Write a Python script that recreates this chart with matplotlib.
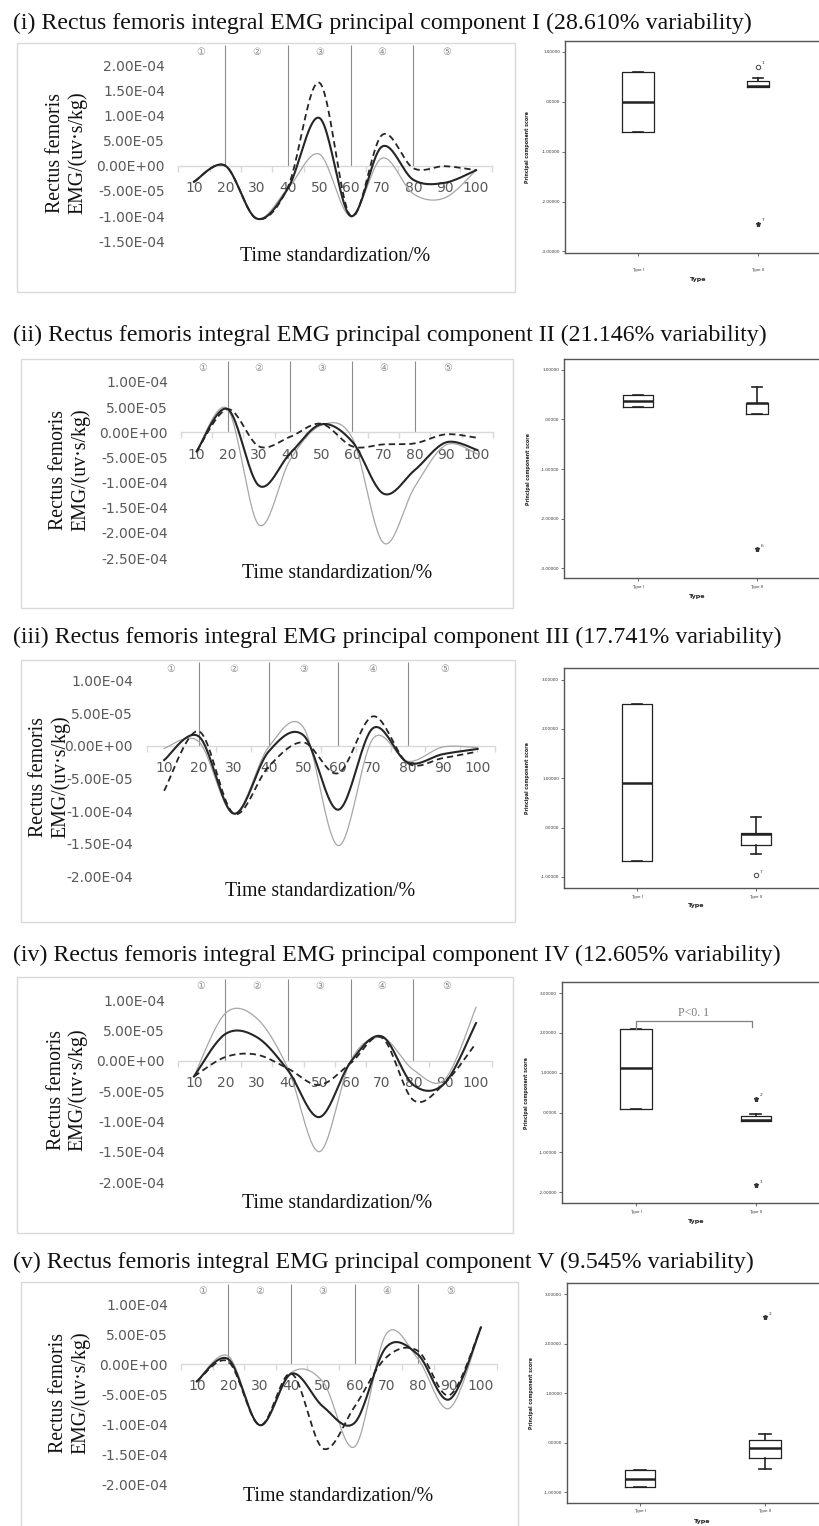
import numpy as np
import matplotlib
matplotlib.use("Agg")
import matplotlib.pyplot as plt
from matplotlib.patches import Rectangle

W, H, DPI = 820, 1526, 100

# ---------------- data ----------------
x_pct = [10, 20, 30, 40, 50, 60, 70, 80, 90, 100]
x_labels = ["10", "20", "30", "40", "50", "60", "70", "80", "90", "100"]
phase_bounds = [20, 40, 60, 80]
phase_labels = ["①", "②", "③", "④", "⑤"]
phase_pos = [12, 30, 50, 70, 90.5]

titles = [
    "(i) Rectus femoris integral EMG principal component I (28.610% variability)",
    "(ii) Rectus femoris integral EMG principal component II (21.146% variability)",
    "(iii) Rectus femoris integral EMG principal component III (17.741% variability)",
    "(iv) Rectus femoris integral EMG principal component IV (12.605% variability)",
    "(v) Rectus femoris integral EMG principal component V (9.545% variability)",
]
y_label = "Rectus femoris\nEMG/(uv·s/kg)"
x_label = "Time standardization/%"

# line series: solid (dark), dashed (dark), thin grey
pc1_solid = [-3.2e-5, 0.0, -1.05e-4, -4.5e-5, 9.5e-5, -1.0e-4, 3.8e-5, -2.8e-5, -3.4e-5, -0.9e-5]
pc1_dashed = [-3.2e-5, 0.0, -1.05e-4, -4.2e-5, 1.65e-4, -1.0e-4, 6.1e-5, -0.5e-5, -0.1e-5, -0.9e-5]
pc1_grey = [-3.2e-5, 0.0, -1.05e-4, -4.5e-5, 2.3e-5, -1.0e-4, 1.5e-5, -5.6e-5, -6.4e-5, -0.9e-5]
pc1_yticks = [2.0e-4, 1.5e-4, 1.0e-4, 5.0e-5, 0.0, -5.0e-5, -1.0e-4, -1.5e-4]

pc2_solid = [-3.8e-5, 4.6e-5, -1.06e-4, -4.2e-5, 1.6e-5, -1.9e-5, -1.22e-4, -7.5e-5, -2.0e-5, -3.5e-5]
pc2_dashed = [-3.8e-5, 4.6e-5, -2.8e-5, -0.9e-5, 1.7e-5, -2.8e-5, -2.4e-5, -2.2e-5, -0.4e-5, -1.1e-5]
pc2_grey = [-3.8e-5, 4.6e-5, -1.84e-4, -5.5e-5, 1.4e-5, -1.2e-5, -2.2e-4, -1.08e-4, -2.5e-5, -4.3e-5]
pc2_yticks = [1.0e-4, 5.0e-5, 0.0, -5.0e-5, -1.0e-4, -1.5e-4, -2.0e-4, -2.5e-4]

pc3_solid = [-2.2e-5, 1.4e-5, -1.04e-4, -0.9e-5, 1.6e-5, -9.8e-5, 2.7e-5, -2.6e-5, -1.3e-5, -0.5e-5]
pc3_dashed = [-6.9e-5, 2.2e-5, -1.04e-4, -3.2e-5, 0.5e-5, -4.2e-5, 4.5e-5, -2.7e-5, -1.9e-5, -0.9e-5]
pc3_grey = [-0.4e-5, 0.6e-5, -1.04e-4, -0.2e-5, 2.8e-5, -1.53e-4, 1.1e-5, -2.4e-5, -0.2e-5, -0.3e-5]
pc3_yticks = [1.0e-4, 5.0e-5, 0.0, -5.0e-5, -1.0e-4, -1.5e-4, -2.0e-4]

pc4_solid = [-2.6e-5, 4.4e-5, 3.9e-5, -1.6e-5, -9.3e-5, -0.2e-5, 4.0e-5, -4.0e-5, -3.7e-5, 6.2e-5]
pc4_dashed = [-2.6e-5, 0.6e-5, 1.0e-5, -1.3e-5, -4.0e-5, -0.4e-5, 3.8e-5, -6.5e-5, -3.7e-5, 2.9e-5]
pc4_grey = [-2.6e-5, 7.8e-5, 7.0e-5, -1.3e-5, -1.5e-4, 0.0, 3.8e-5, -1.5e-5, -3.1e-5, 8.8e-5]
pc4_yticks = [1.0e-4, 5.0e-5, 0.0, -5.0e-5, -1.0e-4, -1.5e-4, -2.0e-4]

pc5_solid = [-2.9e-5, 0.8e-5, -1.02e-4, -1.6e-5, -7.1e-5, -9.8e-5, 2.8e-5, 1.6e-5, -5.9e-5, 6.1e-5]
pc5_dashed = [-2.9e-5, 0.4e-5, -1.02e-4, -1.6e-5, -1.41e-4, -7.1e-5, 1.1e-5, 2.2e-5, -5.2e-5, 6.1e-5]
pc5_grey = [-2.9e-5, 1.3e-5, -1.02e-4, -1.4e-5, -3.0e-5, -1.38e-4, 5.0e-5, 0.9e-5, -7.4e-5, 6.1e-5]
pc5_yticks = [1.0e-4, 5.0e-5, 0.0, -5.0e-5, -1.0e-4, -1.5e-4, -2.0e-4]

# boxplot statistics (Type I, Type II)
box_types = ["Type I", "Type II"]
pc1_med, pc1_q1, pc1_q3 = [0.00, 0.32], [-0.61, 0.30], [0.60, 0.42]
pc1_wlo, pc1_whi = [-0.61, 0.29], [0.60, 0.48]
pc1_out = [(2, 0.69, "o", "1"), (2, -2.45, "*", "7")]
pc1_bticks = [1, 0, -1, -2, -3]

pc2_med, pc2_q1, pc2_q3 = [0.375, 0.335], [0.255, 0.10], [0.49, 0.335]
pc2_wlo, pc2_whi = [0.255, 0.10], [0.49, 0.66]
pc2_out = [(2, -2.62, "*", "6")]
pc2_bticks = [1, 0, -1, -2, -3]

pc3_med, pc3_q1, pc3_q3 = [0.91, -0.13], [-0.675, -0.35], [2.50, -0.10]
pc3_wlo, pc3_whi = [-0.675, -0.53], [2.50, 0.22]
pc3_out = [(2, -0.97, "o", "7")]
pc3_bticks = [3, 2, 1, 0, -1]

pc4_med, pc4_q1, pc4_q3 = [1.11, -0.18], [0.09, -0.22], [2.10, -0.08]
pc4_wlo, pc4_whi = [0.09, -0.22], [2.10, -0.03]
pc4_out = [(2, 0.35, "*", "2"), (2, -1.83, "*", "1")]
pc4_bticks = [3, 2, 1, 0, -1, -2]
pc4_sig_text = "P<0. 1"

pc5_med, pc5_q1, pc5_q3 = [-0.72, -0.10], [-0.90, -0.30], [-0.55, 0.05]
pc5_wlo, pc5_whi = [-0.90, -0.53], [-0.55, 0.17]
pc5_out = [(2, 2.53, "*", "2")]
pc5_bticks = [3, 2, 1, 0, -1]

# ---------------- helpers ----------------
fig = plt.figure(figsize=(W / DPI, H / DPI), dpi=DPI)
fig.patch.set_facecolor("white")


def frect(x0, y0, x1, y1):
    return [x0 / W, 1 - y1 / H, (x1 - x0) / W, (y1 - y0) / H]


def fx(x):
    return x / W


def fy(y):
    return 1 - y / H


def smooth(xs, ys, n=24):
    P = np.column_stack([np.asarray(xs, float), np.asarray(ys, float)])
    P = np.vstack([P[0], P, P[-1]])
    t = np.linspace(0, 1, n, endpoint=False)[:, None]
    segs = []
    for i in range(1, len(P) - 2):
        p0, p1, p2, p3 = P[i - 1], P[i], P[i + 1], P[i + 2]
        c1 = p1 + (p2 - p0) / 6.0
        c2 = p2 - (p3 - p1) / 6.0
        segs.append((1 - t) ** 3 * p1 + 3 * (1 - t) ** 2 * t * c1 + 3 * (1 - t) * t ** 2 * c2 + t ** 3 * p2)
    segs.append(P[-2][None, :])
    a = np.vstack(segs)
    return a[:, 0], a[:, 1]


def ytick_fmt(v):
    return f"{v:.2E}"


SERIF = ["Liberation Serif", "DejaVu Serif"]
SANS = ["DejaVu Sans"]
TICK_C = "#595959"

# title font size fitted to reference width
t0 = fig.text(fx(13), fy(23.5), titles[0], family=SERIF, fontsize=16, va="center", ha="left")
fig.canvas.draw()
w0 = t0.get_window_extent(fig.canvas.get_renderer()).width
title_fs = 16 * 739.0 / w0
t0.remove()

title_y = [23.5, 335, 637, 955, 1262]
for tt, ty in zip(titles, title_y):
    fig.text(fx(13), fy(ty), tt, family=SERIF, fontsize=title_fs, va="center", ha="left", color="#111111")

# geometry for line charts (pixel layout)
line_geom = [
    dict(box=(17, 43, 515, 292), x0=178.3, x1=491.7, yzero=165.7, s=25.17, top=45, ymin=-1.5e-4,
         lab_r=165, ylab=(66.5, 153), xlab=(335, 256.7), ph_y=52),
    dict(box=(21, 359, 513, 608), x0=181, x1=492.7, yzero=432.3, s=25.17, top=361, ymin=-2.5e-4,
         lab_r=168, ylab=(69.5, 470), xlab=(337, 574), ph_y=367.7),
    dict(box=(21, 660, 515, 922), x0=146.7, x1=495, yzero=745.7, s=32.67, top=662, ymin=-2.0e-4,
         lab_r=133, ylab=(49.5, 777), xlab=(320, 891), ph_y=669),
    dict(box=(17, 977, 513, 1233), x0=178.3, x1=491.7, yzero=1060.7, s=30.33, top=979, ymin=-2.0e-4,
         lab_r=165, ylab=(67, 1090), xlab=(337, 1203), ph_y=985.7),
    dict(box=(21, 1282, 518, 1540), x0=181, x1=496.7, yzero=1364, s=30.0, top=1284, ymin=-2.0e-4,
         lab_r=168, ylab=(69.5, 1393), xlab=(338, 1496.7), ph_y=1290.7),
]
line_data = [
    (pc1_solid, pc1_dashed, pc1_grey, pc1_yticks),
    (pc2_solid, pc2_dashed, pc2_grey, pc2_yticks),
    (pc3_solid, pc3_dashed, pc3_grey, pc3_yticks),
    (pc4_solid, pc4_dashed, pc4_grey, pc4_yticks),
    (pc5_solid, pc5_dashed, pc5_grey, pc5_yticks),
]

for g, (s_solid, s_dash, s_grey, yticks) in zip(line_geom, line_data):
    bx0, by0, bx1, by1 = g["box"]
    fig.add_artist(Rectangle((fx(bx0), fy(by1)), (bx1 - bx0) / W, (by1 - by0) / H,
                             transform=fig.transFigure, fill=False, ec="#d9d9d9", lw=1.0))
    ytop = (g["yzero"] - g["top"]) / g["s"] * 5e-5
    ybot_px = g["yzero"] + (-g["ymin"]) / 5e-5 * g["s"]
    ax = fig.add_axes(frect(g["x0"], g["top"], g["x1"], ybot_px))
    ax.set_facecolor("none")
    ax.set_xlim(x_pct[0] - 5, x_pct[-1] + 5)
    ax.set_ylim(g["ymin"], ytop)
    for sp in ("left", "right", "top"):
        ax.spines[sp].set_visible(False)
    ax.spines["bottom"].set_position(("data", 0))
    ax.spines["bottom"].set_color("#d9d9d9")
    ax.spines["bottom"].set_linewidth(1.0)
    ax.set_xticks(x_pct)
    ax.set_xticklabels(x_labels)
    ax.set_xticks([x - 5 for x in x_pct] + [x_pct[-1] + 5], minor=True)
    ax.tick_params(axis="x", which="major", length=0, pad=11, labelsize=10, labelcolor=TICK_C)
    ax.tick_params(axis="x", which="minor", length=4, width=1.0, color="#d9d9d9", direction="out")
    for lab in ax.get_xticklabels():
        lab.set_family(SANS)
    ax.set_yticks(yticks)
    ax.set_yticklabels([ytick_fmt(v) for v in yticks])
    ax.tick_params(axis="y", length=0, pad=(g["x0"] - g["lab_r"]) * 0.72, labelsize=10, labelcolor=TICK_C)
    for lab in ax.get_yticklabels():
        lab.set_family(SANS)
    ax.vlines(phase_bounds, 0, ytop, color="#8c8c8c", lw=0.8, zorder=1)
    ph_y = (g["yzero"] - g["ph_y"]) / g["s"] * 5e-5
    for p, lab in zip(phase_pos, phase_labels):
        ax.text(p, ph_y, lab, ha="center", va="center", fontsize=7, color="#8c8c8c", family=SANS)
    xs, ys = smooth(x_pct, s_grey)
    ax.plot(xs, ys, color="#a6a6a6", lw=0.9, zorder=3)
    xs, ys = smooth(x_pct, s_dash)
    ax.plot(xs, ys, color="#262626", lw=1.3, ls=(0, (3.5, 2.2)), zorder=4)
    xs, ys = smooth(x_pct, s_solid)
    ax.plot(xs, ys, color="#262626", lw=1.5, zorder=5)
    fig.text(fx(g["ylab"][0]), fy(g["ylab"][1]), y_label, rotation=90, ha="center", va="center",
             multialignment="center", family=SERIF, fontsize=14.3, linespacing=1.15, color="#111111")
    fig.text(fx(g["xlab"][0]), fy(g["xlab"][1]), x_label, ha="center", va="center",
             family=SERIF, fontsize=14.3, color="#111111")

# boxplots
box_geom = [
    dict(left=565, top=41, bottom=253, ylim=(-3.03, 1.21), xI=638, xII=758, w=[0.26, 0.18],
         tl=16.7, tt=26.6, ylx=528),
    dict(left=564, top=359.3, bottom=578.3, ylim=(-3.2, 1.21), xI=638, xII=757, w=[0.26, 0.18],
         tl=8.4, tt=18, ylx=529),
    dict(left=564, top=668.3, bottom=888.3, ylim=(-1.23, 3.23), xI=637, xII=756, w=[0.25, 0.25],
         tl=8.4, tt=17.4, ylx=528),
    dict(left=562, top=982.3, bottom=1203.3, ylim=(-2.28, 3.27), xI=636, xII=755.7, w=[0.26, 0.25],
         tl=8.4, tt=18.4, ylx=527),
    dict(left=567, top=1283.3, bottom=1503.3, ylim=(-1.22, 3.22), xI=640, xII=765, w=[0.24, 0.25],
         tl=7.4, tt=17.7, ylx=532),
]
box_data = [
    (pc1_med, pc1_q1, pc1_q3, pc1_wlo, pc1_whi, pc1_out, pc1_bticks),
    (pc2_med, pc2_q1, pc2_q3, pc2_wlo, pc2_whi, pc2_out, pc2_bticks),
    (pc3_med, pc3_q1, pc3_q3, pc3_wlo, pc3_whi, pc3_out, pc3_bticks),
    (pc4_med, pc4_q1, pc4_q3, pc4_wlo, pc4_whi, pc4_out, pc4_bticks),
    (pc5_med, pc5_q1, pc5_q3, pc5_wlo, pc5_whi, pc5_out, pc5_bticks),
]


def btick_fmt(v):
    s = f"{v:.5f}"
    return s[1:] if s.startswith("0.") else s


BOX_C = "#222222"
FRAME_C = "#555555"
for k, (g, (med, q1, q3, wlo, whi, outs, bticks)) in enumerate(zip(box_geom, box_data)):
    ppu = g["xII"] - g["xI"]
    right_px = 835
    ax = fig.add_axes(frect(g["left"], g["top"], right_px, g["bottom"]))
    ax.set_xlim(1 - (g["xI"] - g["left"]) / ppu, 2 + (right_px - g["xII"]) / ppu)
    ax.set_ylim(*g["ylim"])
    stats = []
    for i in range(2):
        stats.append(dict(med=med[i], q1=q1[i], q3=q3[i], whislo=wlo[i], whishi=whi[i], fliers=[]))
    ax.bxp(stats, positions=[1, 2], widths=g["w"], showfliers=False, capwidths=[0.09, 0.09],
           boxprops=dict(color=BOX_C, lw=0.9), medianprops=dict(color=BOX_C, lw=1.8),
           whiskerprops=dict(color=BOX_C, lw=1.2), capprops=dict(color=BOX_C, lw=1.2))
    for (pos, val, mk, lab) in outs:
        if mk == "o":
            ax.plot([pos], [val], marker="o", ms=3.2, mfc="white", mec="#444444", mew=0.7, ls="none")
        else:
            ax.plot([pos], [val], marker="*", ms=3.6, color="#333333", ls="none")
        ax.annotate(lab, (pos, val), xytext=(2.5, 2.0), textcoords="offset points",
                    fontsize=3.2, color="#333333", family=SANS)
    for sp in ax.spines.values():
        sp.set_color(FRAME_C)
        sp.set_linewidth(1.0)
    ax.set_yticks(bticks)
    ax.set_yticklabels([btick_fmt(v) for v in bticks])
    ax.set_xticks([1, 2])
    ax.set_xticklabels(["", ""])
    ax.tick_params(axis="y", length=2.5, width=0.6, color=FRAME_C, labelsize=3.0, labelcolor="#333333", pad=1)
    ax.tick_params(axis="x", length=2.5, width=0.6, color=FRAME_C)
    for i, nm in enumerate(box_types):
        xp = g["xI"] if i == 0 else g["xII"]
        fig.text(fx(xp), fy(g["bottom"] + g["tl"]), nm, ha="center", va="center", fontsize=3.0,
                 color="#333333", family=SANS)
    fig.text(fx((g["xI"] + g["xII"]) / 2), fy(g["bottom"] + g["tt"]), "Type", ha="center", va="center",
             fontsize=4.6, fontweight="bold", color="#222222", family=SANS)
    fig.text(fx(g["ylx"]), fy((g["top"] + g["bottom"]) / 2), "Principal component score", rotation=90,
             ha="center", va="center", fontsize=3.4, fontweight="bold", color="#222222", family=SANS)
    if k == 3:
        top_q3 = q3[0]
        ax.plot([1, 1, 1.97, 1.97], [top_q3, 2.31, 2.31, 2.14], color="#808080", lw=0.9)
        ax.text(1.48, 2.5, pc4_sig_text, ha="center", va="center", fontsize=8.5,
                color="#7a7a7a", family=SERIF)

fig.savefig("out.png", dpi=DPI)
